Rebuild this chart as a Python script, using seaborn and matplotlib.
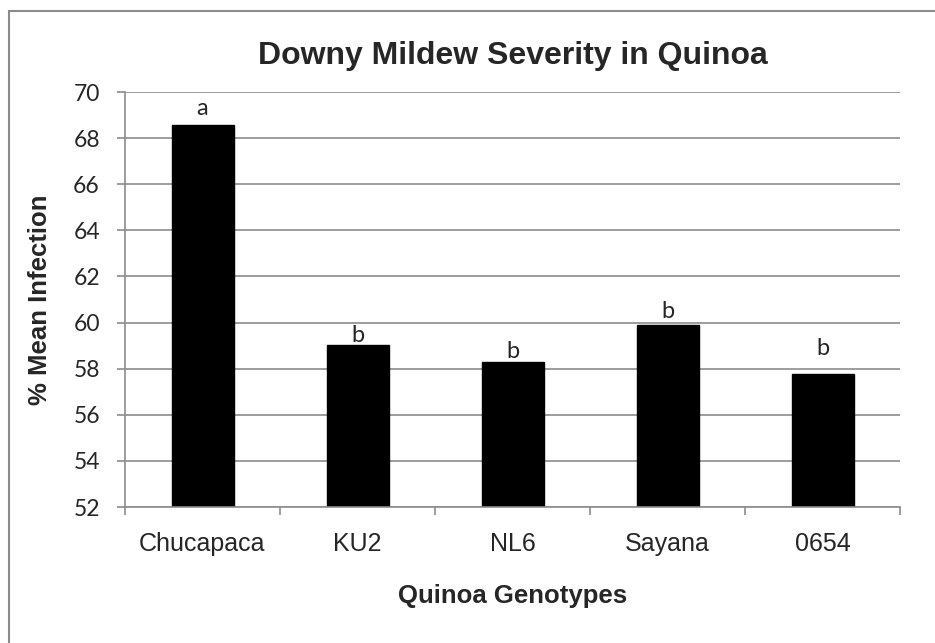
import matplotlib
matplotlib.use("Agg")
import matplotlib.pyplot as plt
import seaborn as sns
import pandas as pd
from matplotlib.patches import Rectangle

genotypes = ["Chucapaca", "KU2", "NL6", "Sayana", "0654"]
mean_infection = [68.59, 59.04, 58.31, 59.88, 57.75]
letters = ["a", "b", "b", "b", "b"]
yticks = [52, 54, 56, 58, 60, 62, 64, 66, 68, 70]

# layout: vertical gap (points) between bar top and its letter
letter_gap_pt = [7.2, 2.2, 2.2, 5.0, 13.7]

df = pd.DataFrame({"Genotype": genotypes, "Infection": mean_infection})

sns.set_theme(style="white")
plt.rcParams["font.family"] = ["Liberation Sans", "DejaVu Sans"]

fig = plt.figure(figsize=(9.35, 6.43), dpi=100)
ax = fig.add_axes([125/935, 1-507/643, (900-125)/935, (507-92)/643])

sns.barplot(data=df, x="Genotype", y="Infection", color="black", width=0.4,
            ax=ax, saturation=1, edgecolor="black")

ax.set_ylim(52, 70)
ax.set_xlim(-0.5, 4.5)
ax.set_yticks(yticks)
ax.set_yticklabels([str(t) for t in yticks], fontsize=16.5, family="Lato")
ax.yaxis.grid(True, color="#8c8c8c", linewidth=1.2)
ax.set_axisbelow(True)

for i, (v, l, g) in enumerate(zip(mean_infection, letters, letter_gap_pt)):
    ax.annotate(l, xy=(i, v), xytext=(0, g), textcoords="offset points",
                ha="center", va="baseline", fontsize=17, family="Lato")

for s in ["top", "right"]:
    ax.spines[s].set_visible(False)
for s in ["left", "bottom"]:
    ax.spines[s].set_color("#8c8c8c")
    ax.spines[s].set_linewidth(1.2)

ax.tick_params(axis="y", which="major", left=True, length=6, color="#8c8c8c",
               width=1.2, pad=12)
ax.tick_params(axis="x", which="major", length=0, labelsize=18, pad=18)
ax.set_xticks([i - 0.5 for i in range(len(genotypes) + 1)], minor=True)
ax.tick_params(axis="x", which="minor", bottom=True, length=6, color="#8c8c8c", width=1.2)

ax.set_xlabel("Quinoa Genotypes", fontsize=18.5, fontweight="bold", labelpad=20)
ax.set_ylabel("% Mean Infection", fontsize=18.5, fontweight="bold", labelpad=15)
ax.set_title("Downy Mildew Severity in Quinoa", fontsize=23, fontweight="bold", pad=20)

# chart frame (right and bottom edges lie outside the canvas)
fig.patches.append(Rectangle((9/935, -0.05), 1.1, 1.05 - 11/643,
                             transform=fig.transFigure, fill=False,
                             edgecolor="#8c8c8c", linewidth=1.5))

fig.savefig("out.png", dpi=100, facecolor="white")
